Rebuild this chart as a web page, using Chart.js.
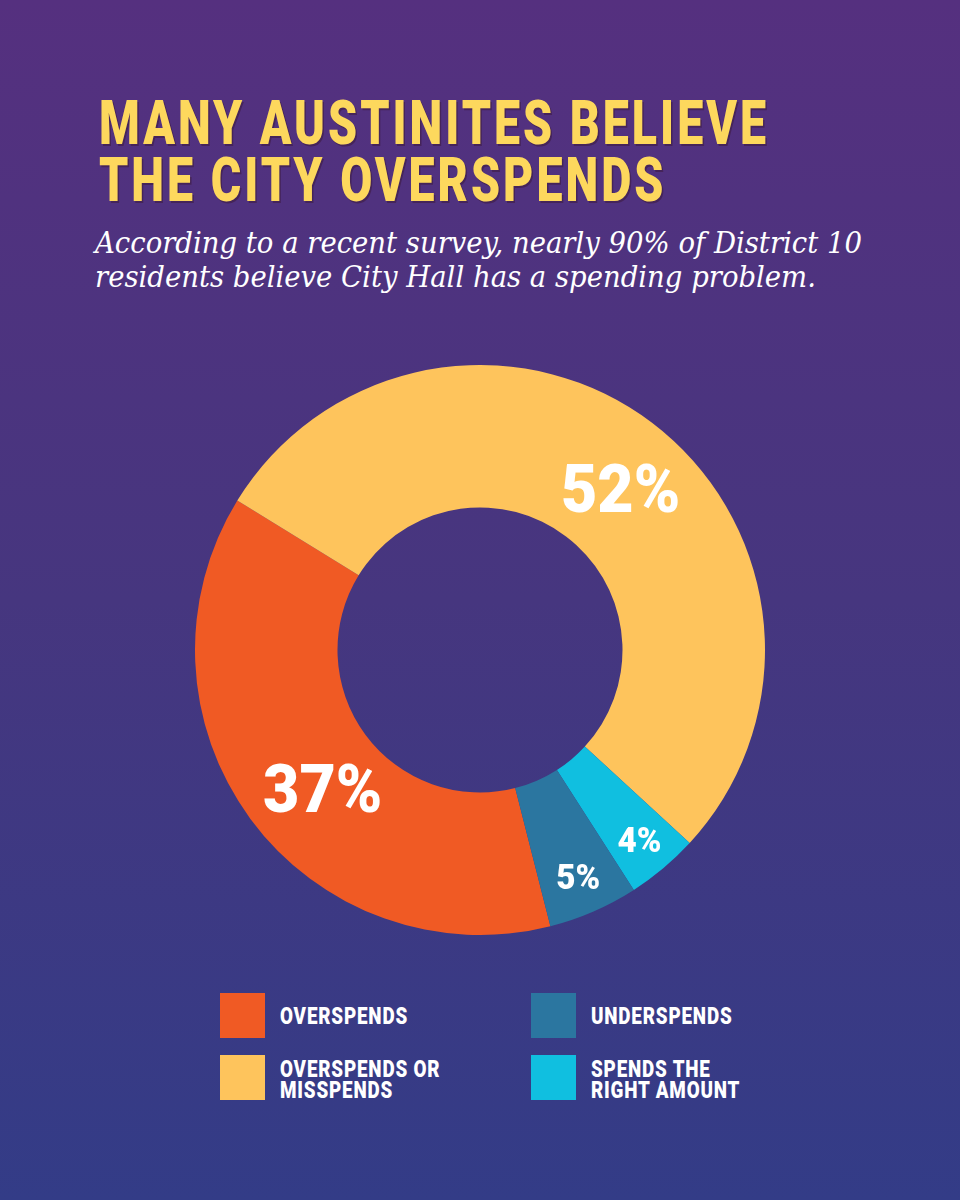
<!DOCTYPE html>
<html>
<head>
<meta charset="utf-8">
<script src="https://cdn.jsdelivr.net/npm/chart.js@4"></script>
<style>
  html, body { margin: 0; padding: 0; }
  body {
    width: 960px; height: 1200px; position: relative; overflow: hidden;
    background: linear-gradient(to bottom, #55307f 0%, #46367f 50%, #333c87 100%);
  }
  .line { position: absolute; white-space: nowrap; transform-origin: 0 0; }
  .title { font-family: Roboto, "DejaVu Sans", sans-serif; font-weight: 900; font-size: 62px; line-height: 62px;
           letter-spacing: 4px; color: #fdd85d; left: 99px; text-shadow: 2px 2px 0 rgba(60,25,60,0.55); }
  .sub { font-family: "DejaVu Serif", "Liberation Serif", serif; font-style: italic; font-size: 30px; line-height: 30px;
         color: #ffffff; left: 95px; }
  .leg { font-family: Roboto, "DejaVu Sans", sans-serif; font-weight: 900; font-size: 23px; line-height: 23px;
         letter-spacing: 1px; color: #ffffff; }
  .sw { position: absolute; width: 45px; height: 45px; }
  #chartBox { position: absolute; left: 195px; top: 365px; width: 570px; height: 570px; }
</style>
</head>
<body>
<div class="line title" id="t1" style="top:92px">MANY AUSTINITES BELIEVE</div>
<div class="line title" id="t2" style="top:149px">THE CITY OVERSPENDS</div>
<div class="line sub" id="s1" style="top:228px">According to a recent survey, nearly 90% of District 10</div>
<div class="line sub" id="s2" style="top:262px">residents believe City Hall has a spending problem.</div>

<div id="chartBox"><canvas id="c"></canvas></div>

<div id="legend"></div>

<script>
// ---- data ----
const categories = ["Overspends", "Overspends or Misspends", "Spends the Right Amount", "Underspends"];
const values = [37, 52, 4, 5];
const valueLabels = ["37%", "52%", "4%", "5%"];
const colors = ["#f05a24", "#fec45c", "#10bfe0", "#2b76a0"];
const legendOrder = [0, 1, 3, 2];
const legendText = [["OVERSPENDS"], ["OVERSPENDS OR", "MISSPENDS"], ["SPENDS THE", "RIGHT AMOUNT"], ["UNDERSPENDS"]];

// ---- text fitting (uniform horizontal condensation per text block) ----
function fitGroup(ids, refId, target) {
  const ref = document.getElementById(refId);
  const range = document.createRange();
  range.selectNodeContents(ref);
  const w = range.getBoundingClientRect().width;
  const s = target / w;
  ids.forEach(id => { document.getElementById(id).style.transform = 'scaleX(' + s + ')'; });
  return s;
}
fitGroup(['t1', 't2'], 't1', 670);
fitGroup(['s1', 's2'], 's1', 767);

// ---- legend (HTML) ----
const legSlots = [
  { sx: 220, sy: 993, tx: 280 },
  { sx: 220, sy: 1055, tx: 280 },
  { sx: 531, sy: 993, tx: 591 },
  { sx: 531, sy: 1055, tx: 591 }
];
const legend = document.getElementById('legend');
const legEls = [];
legendOrder.forEach((dataIdx, slot) => {
  const p = legSlots[slot];
  const sw = document.createElement('div');
  sw.className = 'sw';
  sw.style.left = p.sx + 'px'; sw.style.top = p.sy + 'px';
  sw.style.background = colors[dataIdx];
  legend.appendChild(sw);
  const lines = legendText[dataIdx];
  const top0 = lines.length === 1 ? p.sy + 12 : p.sy + 3;
  lines.forEach((txt, li) => {
    const d = document.createElement('div');
    d.className = 'line leg';
    d.textContent = txt;
    d.style.left = p.tx + 'px';
    d.style.top = (top0 + li * 21) + 'px';
    legend.appendChild(d);
    legEls.push(d);
  });
});
(function () {
  const range = document.createRange();
  range.selectNodeContents(legEls[0]);
  const s = 128 / range.getBoundingClientRect().width;
  legEls.forEach(e => e.style.transform = 'scaleX(' + s + ')');
})();

// ---- slice labels plugin ----
const labelStyle = [
  { size: 66, frac: 0.47, nudge: -5 },
  { size: 66, frac: 0.50, nudge: 4 },
  { size: 35, frac: 0.74, nudge: 0 },
  { size: 35, frac: 0.73, nudge: 0 }
];
const sliceLabels = {
  id: 'sliceLabels',
  afterDatasetsDraw(chart) {
    const ctx = chart.ctx;
    const meta = chart.getDatasetMeta(0);
    meta.data.forEach((arc, i) => {
      const st = labelStyle[i];
      const mid = (arc.startAngle + arc.endAngle) / 2 + st.nudge * Math.PI / 180;
      const r = arc.innerRadius + (arc.outerRadius - arc.innerRadius) * st.frac;
      const x = arc.x + Math.cos(mid) * r;
      const y = arc.y + Math.sin(mid) * r;
      ctx.save();
      ctx.font = '900 ' + st.size + 'px Roboto, "DejaVu Sans", sans-serif';
      ctx.fillStyle = '#ffffff';
      ctx.textAlign = 'center';
      ctx.textBaseline = 'alphabetic';
      ctx.translate(x, y + st.size * 0.711 / 2);
      ctx.scale(0.95, 1);
      ctx.fillText(valueLabels[i], 0, 0);
      ctx.restore();
    });
  }
};

new Chart(document.getElementById('c'), {
  type: 'doughnut',
  data: {
    labels: categories,
    datasets: [{ data: values, backgroundColor: colors, borderWidth: 0, hoverOffset: 0 }]
  },
  options: {
    responsive: true,
    maintainAspectRatio: false,
    animation: false,
    cutout: '50%',
    rotation: 165.7,
    layout: { padding: 0 },
    plugins: { legend: { display: false }, tooltip: { enabled: false } },
    events: []
  },
  plugins: [sliceLabels]
});
</script>
</body>
</html>
